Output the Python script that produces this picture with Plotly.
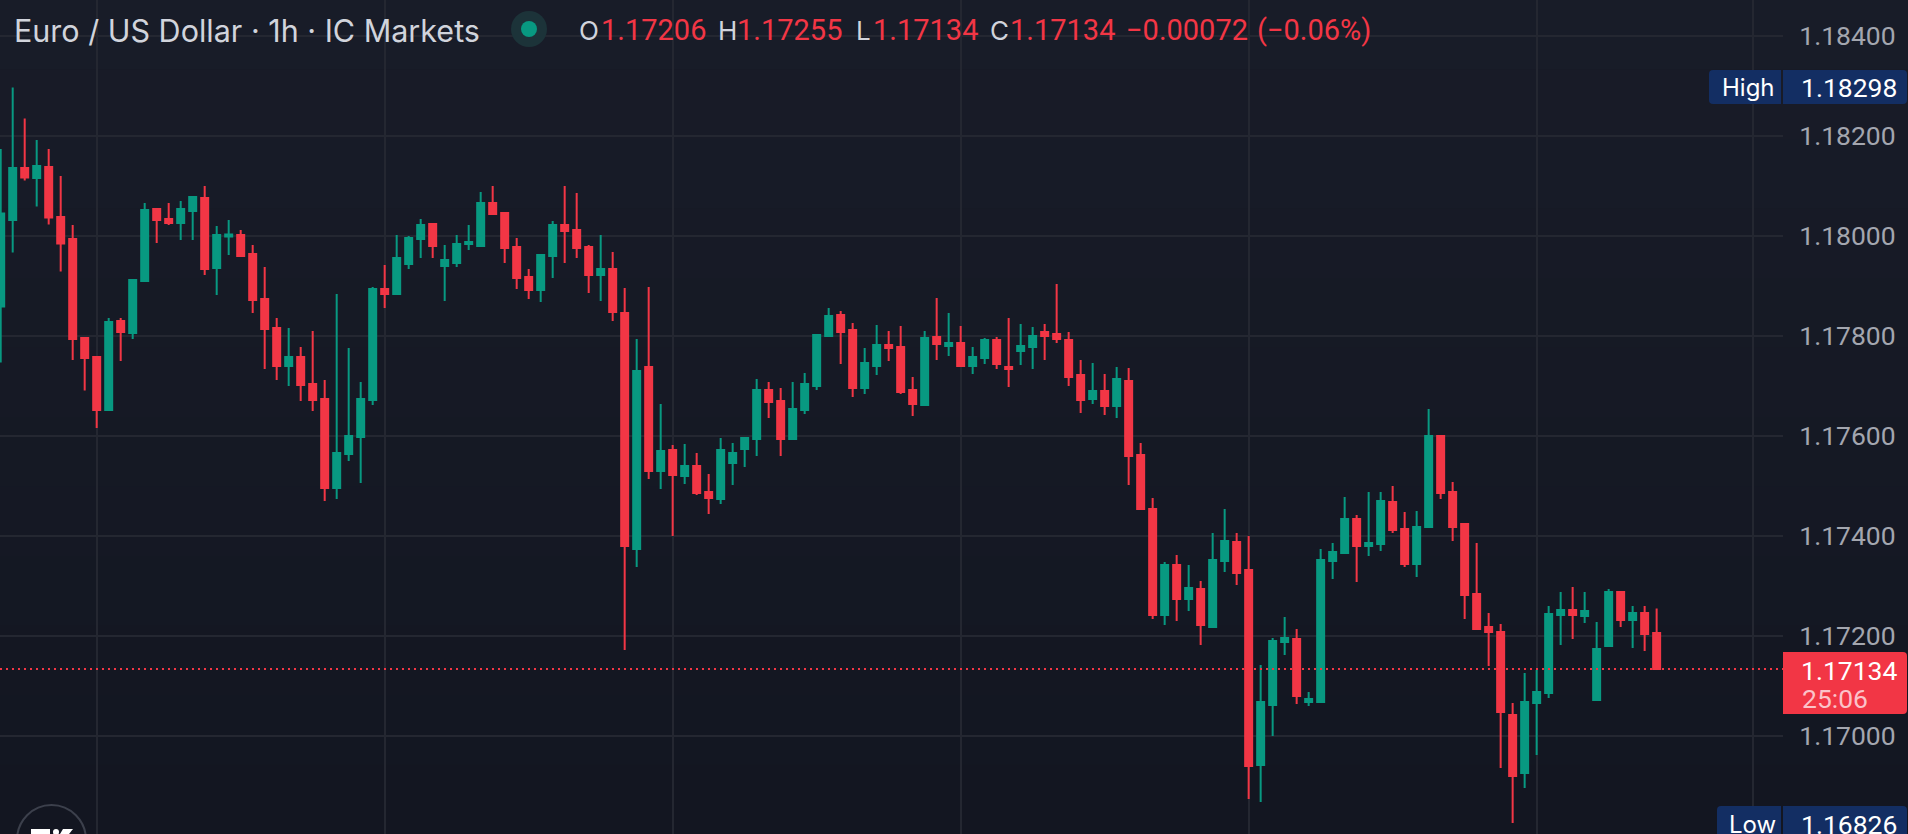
import plotly.graph_objects as go

WIDTH = 1908
HEIGHT = 834
AXIS_LEFT = 1783  # where the price scale starts

# hourly bars
bar_index = list(range(139))
opens = [1.17859, 1.18032, 1.18136, 1.18116, 1.18138, 1.18038, 1.17994, 1.17796,
         1.17758, 1.17652, 1.17830, 1.17806, 1.17910, 1.18054, 1.18034, 1.18026,
         1.18050, 1.18076, 1.17936, 1.17999, 1.18002, 1.17964, 1.17874, 1.17816,
         1.17740, 1.17758, 1.17704, 1.17674, 1.17496, 1.17564, 1.17598, 1.17672,
         1.17894, 1.17884, 1.17944, 1.17994, 1.18024, 1.17940, 1.17946, 1.17984,
         1.17980, 1.18066, 1.18046, 1.17978, 1.17918, 1.17892, 1.17960, 1.18022,
         1.18012, 1.17978, 1.17922, 1.17934, 1.17846, 1.17374, 1.17738, 1.17530,
         1.17572, 1.17520, 1.17540, 1.17488, 1.17474, 1.17546, 1.17574, 1.17594,
         1.17692, 1.17670, 1.17594, 1.17652, 1.17700, 1.17800, 1.17842, 1.17812,
         1.17696, 1.17740, 1.17782, 1.17778, 1.17692, 1.17662, 1.17798, 1.17780,
         1.17786, 1.17740, 1.17756, 1.17792, 1.17738, 1.17770, 1.17778, 1.17808,
         1.17804, 1.17792, 1.17722, 1.17674, 1.17690, 1.17660, 1.17710, 1.17562,
         1.17454, 1.17242, 1.17342, 1.17274, 1.17294, 1.17218, 1.17350, 1.17388,
         1.17332, 1.16942, 1.17062, 1.17188, 1.17194, 1.17068, 1.17068, 1.17350,
         1.17366, 1.17434, 1.17380, 1.17384, 1.17468, 1.17414, 1.17344, 1.17418,
         1.17600, 1.17488, 1.17424, 1.17284, 1.17218, 1.17208, 1.17042, 1.16926,
         1.17066, 1.17086, 1.17242, 1.17252, 1.17240, 1.17072, 1.17180, 1.17288,
         1.17232, 1.17246, 1.17206]
highs = [1.18174, 1.18297, 1.18235, 1.18192, 1.18174, 1.18120, 1.18022, 1.17796,
         1.17758, 1.17836, 1.17836, 1.17914, 1.18066, 1.18054, 1.18066, 1.18070,
         1.18080, 1.18100, 1.18020, 1.18032, 1.18012, 1.17982, 1.17938, 1.17836,
         1.17816, 1.17778, 1.17810, 1.17712, 1.17884, 1.17776, 1.17708, 1.17898,
         1.17942, 1.18002, 1.18000, 1.18034, 1.18026, 1.17982, 1.18002, 1.18022,
         1.18088, 1.18100, 1.18048, 1.17996, 1.17934, 1.17962, 1.18030, 1.18100,
         1.18086, 1.17982, 1.18002, 1.17968, 1.17896, 1.17794, 1.17898, 1.17664,
         1.17582, 1.17584, 1.17566, 1.17524, 1.17596, 1.17586, 1.17596, 1.17714,
         1.17708, 1.17696, 1.17708, 1.17726, 1.17802, 1.17856, 1.17850, 1.17826,
         1.17776, 1.17822, 1.17810, 1.17820, 1.17718, 1.17810, 1.17876, 1.17846,
         1.17820, 1.17778, 1.17796, 1.17798, 1.17836, 1.17824, 1.17818, 1.17824,
         1.17904, 1.17808, 1.17752, 1.17746, 1.17724, 1.17738, 1.17736, 1.17586,
         1.17476, 1.17348, 1.17362, 1.17342, 1.17310, 1.17406, 1.17454, 1.17406,
         1.17400, 1.17142, 1.17196, 1.17238, 1.17214, 1.17088, 1.17374, 1.17386,
         1.17478, 1.17442, 1.17488, 1.17488, 1.17500, 1.17448, 1.17450, 1.17654,
         1.17602, 1.17508, 1.17424, 1.17386, 1.17246, 1.17224, 1.17066, 1.17126,
         1.17132, 1.17260, 1.17288, 1.17298, 1.17288, 1.17228, 1.17294, 1.17288,
         1.17260, 1.17260, 1.17255]
lows = [1.17747, 1.17967, 1.18111, 1.18059, 1.18023, 1.17929, 1.17752, 1.17691,
        1.17616, 1.17652, 1.17750, 1.17794, 1.17910, 1.17986, 1.18022, 1.17992,
        1.17992, 1.17922, 1.17882, 1.17962, 1.17958, 1.17846, 1.17734, 1.17712,
        1.17700, 1.17670, 1.17650, 1.17470, 1.17474, 1.17550, 1.17506, 1.17662,
        1.17856, 1.17884, 1.17934, 1.17956, 1.17956, 1.17870, 1.17938, 1.17972,
        1.17980, 1.18042, 1.17946, 1.17894, 1.17874, 1.17868, 1.17916, 1.17946,
        1.17956, 1.17886, 1.17870, 1.17830, 1.17172, 1.17338, 1.17514, 1.17494,
        1.17400, 1.17504, 1.17482, 1.17444, 1.17464, 1.17502, 1.17538, 1.17560,
        1.17636, 1.17560, 1.17594, 1.17644, 1.17692, 1.17800, 1.17744, 1.17678,
        1.17684, 1.17722, 1.17750, 1.17684, 1.17640, 1.17662, 1.17752, 1.17760,
        1.17738, 1.17724, 1.17744, 1.17734, 1.17698, 1.17742, 1.17734, 1.17752,
        1.17786, 1.17700, 1.17646, 1.17664, 1.17642, 1.17636, 1.17502, 1.17454,
        1.17234, 1.17222, 1.17230, 1.17250, 1.17182, 1.17218, 1.17328, 1.17302,
        1.16874, 1.16868, 1.17000, 1.17162, 1.17064, 1.17060, 1.17068, 1.17314,
        1.17366, 1.17308, 1.17360, 1.17370, 1.17406, 1.17338, 1.17318, 1.17418,
        1.17474, 1.17390, 1.17234, 1.17214, 1.17140, 1.16936, 1.16826, 1.16896,
        1.16962, 1.17076, 1.17182, 1.17194, 1.17226, 1.17072, 1.17180, 1.17218,
        1.17176, 1.17170, 1.17134]
closes = [1.18045, 1.18136, 1.18117, 1.18140, 1.18037, 1.17985, 1.17794, 1.17756,
          1.17652, 1.17828, 1.17808, 1.17912, 1.18052, 1.18032, 1.18026, 1.18054,
          1.18078, 1.17934, 1.18002, 1.18003, 1.17960, 1.17872, 1.17814, 1.17740,
          1.17758, 1.17702, 1.17672, 1.17496, 1.17566, 1.17600, 1.17674, 1.17894,
          1.17884, 1.17956, 1.17996, 1.18022, 1.17980, 1.17952, 1.17984, 1.17988,
          1.18066, 1.18044, 1.17976, 1.17916, 1.17892, 1.17962, 1.18022, 1.18010,
          1.17976, 1.17922, 1.17934, 1.17848, 1.17380, 1.17730, 1.17530, 1.17570,
          1.17522, 1.17540, 1.17486, 1.17476, 1.17572, 1.17566, 1.17596, 1.17692,
          1.17668, 1.17594, 1.17654, 1.17704, 1.17802, 1.17840, 1.17808, 1.17696,
          1.17746, 1.17782, 1.17776, 1.17688, 1.17664, 1.17796, 1.17784, 1.17786,
          1.17740, 1.17758, 1.17792, 1.17744, 1.17734, 1.17780, 1.17800, 1.17800,
          1.17794, 1.17718, 1.17672, 1.17690, 1.17660, 1.17714, 1.17560, 1.17454,
          1.17242, 1.17342, 1.17274, 1.17296, 1.17222, 1.17352, 1.17390, 1.17326,
          1.16940, 1.17068, 1.17190, 1.17196, 1.17080, 1.17074, 1.17352, 1.17368,
          1.17434, 1.17380, 1.17386, 1.17470, 1.17412, 1.17344, 1.17418, 1.17600,
          1.17486, 1.17418, 1.17282, 1.17214, 1.17208, 1.17048, 1.16920, 1.17068,
          1.17088, 1.17244, 1.17252, 1.17242, 1.17250, 1.17174, 1.17288, 1.17232,
          1.17246, 1.17204, 1.17134]

price_ticks = [1.17, 1.172, 1.174, 1.176, 1.178, 1.18, 1.182, 1.184]
time_ticks = [8, 32, 56, 80, 104, 128, 146]
last_price = 1.17134
high_price = "1.18298"
low_price = "1.16826"

UP = "#089981"
DOWN = "#f23645"
TEXT = "#d1d4dc"
AXIS_TEXT = "#a3a6af"
BADGE = "#132e63"
GRID = "#242731"
NUM_FONT = "Roboto"
WORD_FONT = "Inter"


def px(x):
    return x / WIDTH


def py(y):
    return 1 - y / HEIGHT


def round_box(x0, y0, x1, y1, fill, left=True, right=True, r=4):
    # rounded box in page pixels, corners only where wanted
    rl = r if left else 0
    rr = r if right else 0
    path = (f"M {px(x0 + rl)} {py(y0)} L {px(x1 - rr)} {py(y0)} "
            f"Q {px(x1)} {py(y0)} {px(x1)} {py(y0 + rr)} "
            f"L {px(x1)} {py(y1 - rr)} Q {px(x1)} {py(y1)} {px(x1 - rr)} {py(y1)} "
            f"L {px(x0 + rl)} {py(y1)} Q {px(x0)} {py(y1)} {px(x0)} {py(y1 - rl)} "
            f"L {px(x0)} {py(y0 + rl)} Q {px(x0)} {py(y0)} {px(x0 + rl)} {py(y0)} Z")
    return dict(type="path", path=path, xref="paper", yref="paper",
                fillcolor=fill, line=dict(width=0), layer="above")


def label(x, y, text, color=TEXT, size=24, family=WORD_FONT):
    return dict(x=px(x), y=py(y), xref="paper", yref="paper", text=text, showarrow=False,
                xanchor="left", yanchor="middle", align="left",
                font=dict(family=family, size=size, color=color))


fig = go.Figure(go.Candlestick(
    x=bar_index, open=opens, high=highs, low=lows, close=closes,
    whiskerwidth=0,
    increasing=dict(line=dict(color=UP, width=2), fillcolor=UP),
    decreasing=dict(line=dict(color=DOWN, width=2), fillcolor=DOWN),
    hoverinfo="skip",
))

# background fades slightly from top to bottom
shapes = []
bands = 12
for b in range(bands):
    t = b / (bands - 1)
    col = f"rgb({round(24 - 5 * t)},{round(28 - 6 * t)},{round(40 - 7 * t)})"
    shapes.append(dict(type="rect", xref="paper", yref="paper", layer="below",
                       x0=0, x1=1, y0=py(HEIGHT * (b + 1) / bands), y1=py(HEIGHT * b / bands),
                       fillcolor=col, line=dict(width=0)))

# last price line
shapes.append(dict(type="line", xref="paper", yref="y", x0=0, x1=px(AXIS_LEFT),
                   y0=last_price, y1=last_price, layer="above",
                   line=dict(color=DOWN, width=2, dash="2px,4px")))

# market status dot
shapes.append(dict(type="circle", xref="paper", yref="paper", layer="above",
                   x0=px(511), x1=px(547), y0=py(47), y1=py(11),
                   fillcolor="#1c3339", line=dict(width=0)))
shapes.append(dict(type="circle", xref="paper", yref="paper", layer="above",
                   x0=px(521), x1=px(537), y0=py(37), y1=py(21),
                   fillcolor=UP, line=dict(width=0)))

# high / low / last badges on the price scale
shapes.append(round_box(1709, 70, 1781, 104, BADGE, right=False))
shapes.append(round_box(1783, 70, 1907, 104, BADGE, left=False))
shapes.append(round_box(1717, 806, 1781, 840, BADGE, right=False))
shapes.append(round_box(1783, 806, 1907, 840, BADGE, left=False))
shapes.append(round_box(1783, 652, 1907, 714, DOWN, left=False))

# corner logo, cut off by the bottom edge
shapes.append(dict(type="circle", xref="paper", yref="paper", layer="above",
                   x0=px(17), x1=px(86), y0=py(875), y1=py(805),
                   fillcolor="rgba(0,0,0,0)", line=dict(color="#3c404c", width=2)))
shapes.append(dict(type="rect", xref="paper", yref="paper", layer="above",
                   x0=px(31), x1=px(50), y0=py(834), y1=py(829),
                   fillcolor="white", line=dict(width=0)))
shapes.append(dict(type="circle", xref="paper", yref="paper", layer="above",
                   x0=px(53), x1=px(59), y0=py(835), y1=py(829),
                   fillcolor="white", line=dict(width=0)))
shapes.append(dict(type="path", xref="paper", yref="paper", layer="above",
                   path=f"M {px(63)} {py(829)} L {px(73)} {py(829)} L {px(69)} {py(834)} L {px(60)} {py(834)} Z",
                   fillcolor="white", line=dict(width=0)))

HEADER_Y = 30
HEAD_NUM = 29
SCALE_NUM = 26.5
annotations = [
    label(12, HEADER_Y, "Euro / US Dollar · 1h · IC Markets", size=30.5),
    label(577, HEADER_Y, "O", size=26), label(599, HEADER_Y, "1.17206", DOWN, HEAD_NUM, NUM_FONT),
    label(716, HEADER_Y, "H", size=26), label(735, HEADER_Y, "1.17255", DOWN, HEAD_NUM, NUM_FONT),
    label(854, HEADER_Y, "L", size=26), label(871, HEADER_Y, "1.17134", DOWN, HEAD_NUM, NUM_FONT),
    label(988, HEADER_Y, "C", size=26), label(1008, HEADER_Y, "1.17134", DOWN, HEAD_NUM, NUM_FONT),
    label(1124, HEADER_Y, "−0.00072", DOWN, HEAD_NUM, NUM_FONT),
    label(1255, HEADER_Y, "(−0.06%)", DOWN, HEAD_NUM, NUM_FONT),
    label(1720, 87, "High", "white"), label(1799, 87, high_price, "white", SCALE_NUM, NUM_FONT),
    label(1727, 824, "Low", "white"), label(1799, 824, low_price, "white", SCALE_NUM, NUM_FONT),
    label(1799, 670, "1.17134", "white", SCALE_NUM, NUM_FONT),
    label(1800, 698, "25:06", "#fbc3c9", SCALE_NUM, NUM_FONT),
]

fig.update_layout(
    width=WIDTH, height=HEIGHT,
    margin=dict(l=0, r=0, t=0, b=0),
    paper_bgcolor="#161a25", plot_bgcolor="rgba(0,0,0,0)",
    showlegend=False, hovermode=False, boxgap=0.167,
    shapes=shapes, annotations=annotations,
    xaxis=dict(domain=[0, px(AXIS_LEFT)], range=[-0.058, 148.53], rangeslider=dict(visible=False),
               tickvals=time_ticks, showticklabels=False, ticks="",
               showgrid=True, gridcolor=GRID, gridwidth=2, zeroline=False, showline=False),
    yaxis=dict(side="right", range=[1.16804, 1.18472], tickvals=price_ticks, tickformat=".5f",
               ticks="outside", ticklen=10, tickcolor="rgba(0,0,0,0)",
               tickfont=dict(family=NUM_FONT, size=SCALE_NUM, color=AXIS_TEXT),
               showgrid=True, gridcolor=GRID, gridwidth=2, zeroline=False, showline=False),
)

# the default page margin would shift the whole chart
fig.write_html("out.html", post_script="document.body.style.margin='0'",
               config=dict(displayModeBar=False))
